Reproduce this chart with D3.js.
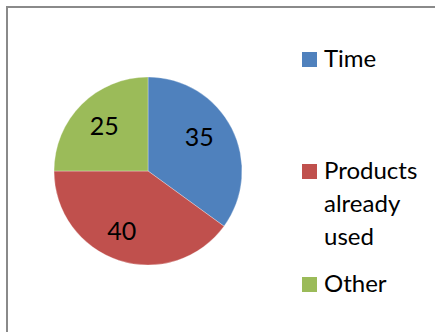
<!DOCTYPE html>
<html>
<head>
<meta charset="utf-8">
<script src="https://cdn.jsdelivr.net/npm/d3@7"></script>
<style>
  html, body { margin: 0; padding: 0; background: #fff; }
  svg { display: block; }
  text { font-family: Lato, "Open Sans", sans-serif; fill: #000; }
</style>
</head>
<body>
<svg id="chart" width="435" height="332"></svg>
<script>
// Survey answers
const categories = ["Time", "Products already used", "Other"];
const values = [35, 40, 25];
const legendLines = [["Time"], ["Products", "already", "used"], ["Other"]];
const colors = ["#4F81BD", "#C0504D", "#9BBB59"];

const svg = d3.select("#chart");
const W = 435, H = 332;

// chart area frame (open to the right and bottom)
svg.append("rect")
  .attr("x", 7).attr("y", 7)
  .attr("width", W + 20).attr("height", H + 20)
  .attr("fill", "#fff")
  .attr("stroke", "#8a8a8a")
  .attr("stroke-width", 2);

const cx = 148, cy = 171, R = 94;

const pie = d3.pie().sort(null).value(d => d)(values);
const arc = d3.arc().innerRadius(0).outerRadius(R);
const labelArc = d3.arc().innerRadius(62).outerRadius(62);
// best-fit nudges keeping each value label clear of the slice edges
const labelNudge = [[-4, -6], [-7, 1], [0, -1]];

const g = svg.append("g").attr("transform", `translate(${cx},${cy})`);

g.selectAll("path.slice")
  .data(pie)
  .join("path")
  .attr("class", "slice")
  .attr("d", arc)
  .attr("fill", (d, i) => colors[i])
  .attr("stroke", "#ffffff")
  .attr("stroke-opacity", 0.5)
  .attr("stroke-width", 0.6);

g.selectAll("text.val")
  .data(pie)
  .join("text")
  .attr("class", "val")
  .attr("transform", (d, i) => {
    const [x, y] = labelArc.centroid(d);
    return `translate(${x + labelNudge[i][0]},${y + labelNudge[i][1]})`;
  })
  .attr("text-anchor", "middle")
  .attr("dy", "0.36em")
  .style("font-size", "25px")
  .text(d => d.data);

// legend
const legendX = 302;
const legendRows = [52, 164, 277];
const lineGap = 33;
const lg = svg.append("g");
legendLines.forEach((lines, i) => {
  const y0 = legendRows[i];
  lg.append("rect")
    .attr("x", legendX).attr("y", y0)
    .attr("width", 15).attr("height", 15)
    .attr("fill", colors[i]);
  const t = lg.append("text")
    .attr("x", legendX + 22)
    .attr("y", y0 + 15)
    .style("font-size", "24px");
  lines.forEach((s, j) => {
    t.append("tspan")
      .attr("x", legendX + 22)
      .attr("dy", j === 0 ? 0 : lineGap)
      .text(s);
  });
});
</script>
</body>
</html>
